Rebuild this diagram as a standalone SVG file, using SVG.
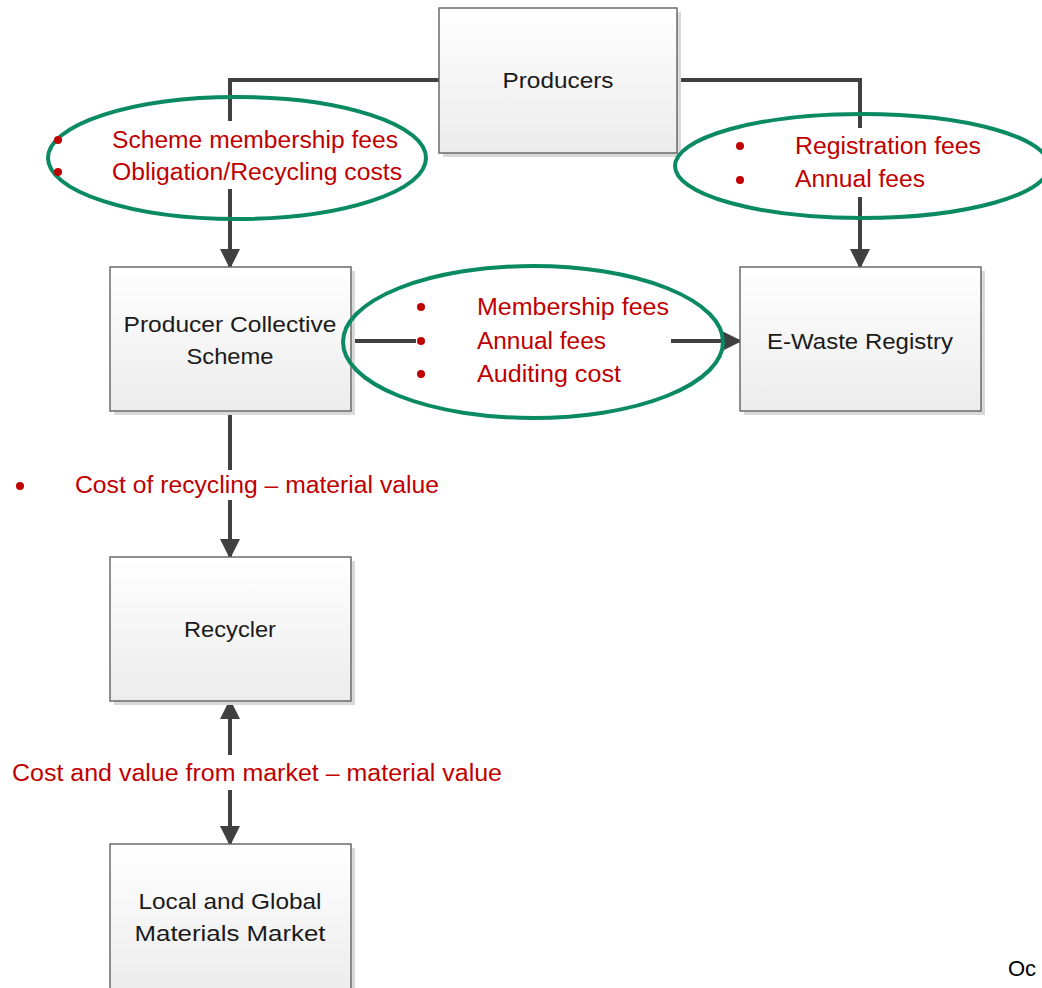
<svg xmlns="http://www.w3.org/2000/svg" width="1042" height="988" viewBox="0 0 1042 988">
<defs>
<linearGradient id="boxg" x1="0" y1="0" x2="0" y2="1">
<stop offset="0" stop-color="#ffffff"/>
<stop offset="1" stop-color="#ececec"/>
</linearGradient>
<marker id="ah" viewBox="0 0 10 10" refX="9" refY="5" markerWidth="5.5" markerHeight="5" orient="auto" markerUnits="strokeWidth">
<path d="M0,0 L10,5 L0,10 z" fill="#404040"/>
</marker>
</defs>
<style>
.box{fill:url(#boxg);stroke:#6b6b6b;stroke-width:1.5}
.shadow{fill:#d9d9d9}
.lbl{font-family:"Liberation Sans",Arial,sans-serif;font-size:22px;fill:#1a1a1a;text-anchor:middle}
.red{font-family:"Liberation Sans",Arial,sans-serif;font-size:23px;fill:#c00000}
.dot{fill:#c00000}
.ell{fill:none;stroke:#0a8a63;stroke-width:4}
.ln{fill:none;stroke:#404040;stroke-width:4}
</style>
<rect width="1042" height="988" fill="#ffffff"/>

<g id="connectors">
<polyline class="ln" points="439,80 230,80 230,121"/>
<line class="ln" x1="230" y1="189" x2="230" y2="267" marker-end="url(#ah)"/>
<polyline class="ln" points="677,80 860,80 860,128"/>
<line class="ln" x1="860" y1="197" x2="860" y2="267" marker-end="url(#ah)"/>
<line class="ln" x1="351" y1="341" x2="416" y2="341"/>
<line class="ln" x1="671" y1="341" x2="740" y2="341" marker-end="url(#ah)"/>
<line class="ln" x1="230" y1="411" x2="230" y2="470"/>
<line class="ln" x1="230" y1="500" x2="230" y2="557" marker-end="url(#ah)"/>
<line class="ln" x1="230" y1="755" x2="230" y2="701" marker-end="url(#ah)"/>
<line class="ln" x1="230" y1="790" x2="230" y2="844" marker-end="url(#ah)"/>
</g>

<g id="producers">
<rect class="shadow" x="443" y="12" width="238" height="145"/>
<rect class="box" x="439" y="8" width="238" height="145"/>
<text class="lbl" x="558" y="88" textLength="111" lengthAdjust="spacingAndGlyphs">Producers</text>
</g>

<g id="pcs">
<rect class="shadow" x="114" y="271" width="241" height="144"/>
<rect class="box" x="110" y="267" width="241" height="144"/>
<text class="lbl" x="230" y="332" textLength="213" lengthAdjust="spacingAndGlyphs">Producer Collective</text>
<text class="lbl" x="230" y="364" textLength="87" lengthAdjust="spacingAndGlyphs">Scheme</text>
</g>

<g id="registry">
<rect class="shadow" x="744" y="271" width="241" height="144"/>
<rect class="box" x="740" y="267" width="241" height="144"/>
<text class="lbl" x="860" y="349" textLength="186" lengthAdjust="spacingAndGlyphs">E-Waste Registry</text>
</g>

<g id="recycler">
<rect class="shadow" x="114" y="561" width="241" height="144"/>
<rect class="box" x="110" y="557" width="241" height="144"/>
<text class="lbl" x="230" y="637" textLength="92" lengthAdjust="spacingAndGlyphs">Recycler</text>
</g>

<g id="market">
<rect class="shadow" x="114" y="848" width="241" height="144"/>
<rect class="box" x="110" y="844" width="241" height="150"/>
<text class="lbl" x="230" y="909" textLength="183" lengthAdjust="spacingAndGlyphs">Local and Global</text>
<text class="lbl" x="230" y="941" textLength="191" lengthAdjust="spacingAndGlyphs">Materials Market</text>
</g>

<g id="label-left">
<ellipse class="ell" cx="237" cy="158" rx="189" ry="61"/>
<circle class="dot" cx="58" cy="140" r="4"/>
<circle class="dot" cx="58" cy="172" r="4"/>
<text class="red" x="112" y="148" textLength="286" lengthAdjust="spacingAndGlyphs">Scheme membership fees</text>
<text class="red" x="112" y="180" textLength="290" lengthAdjust="spacingAndGlyphs">Obligation/Recycling costs</text>
</g>

<g id="label-right">
<ellipse class="ell" cx="862" cy="166" rx="187" ry="52"/>
<circle class="dot" cx="740" cy="146" r="4"/>
<circle class="dot" cx="740" cy="180" r="4"/>
<text class="red" x="795" y="154" textLength="186" lengthAdjust="spacingAndGlyphs">Registration fees</text>
<text class="red" x="795" y="187" textLength="130" lengthAdjust="spacingAndGlyphs">Annual fees</text>
</g>

<g id="label-middle">
<ellipse class="ell" cx="533" cy="342" rx="190" ry="76"/>
<circle class="dot" cx="421" cy="307" r="4"/>
<circle class="dot" cx="421" cy="341" r="4"/>
<circle class="dot" cx="421" cy="374" r="4"/>
<text class="red" x="477" y="315" textLength="192" lengthAdjust="spacingAndGlyphs">Membership fees</text>
<text class="red" x="477" y="349" textLength="129" lengthAdjust="spacingAndGlyphs">Annual fees</text>
<text class="red" x="477" y="382" textLength="144" lengthAdjust="spacingAndGlyphs">Auditing cost</text>
</g>

<g id="label-recycling">
<circle class="dot" cx="20" cy="486" r="4"/>
<text class="red" x="75" y="493" textLength="364" lengthAdjust="spacingAndGlyphs">Cost of recycling – material value</text>
</g>

<g id="label-market">
<text class="red" x="12" y="781" textLength="490" lengthAdjust="spacingAndGlyphs">Cost and value from market – material value</text>
</g>

<text x="1008" y="976" font-family="Liberation Sans,Arial,sans-serif" font-size="22" fill="#000">Oc</text>
</svg>
